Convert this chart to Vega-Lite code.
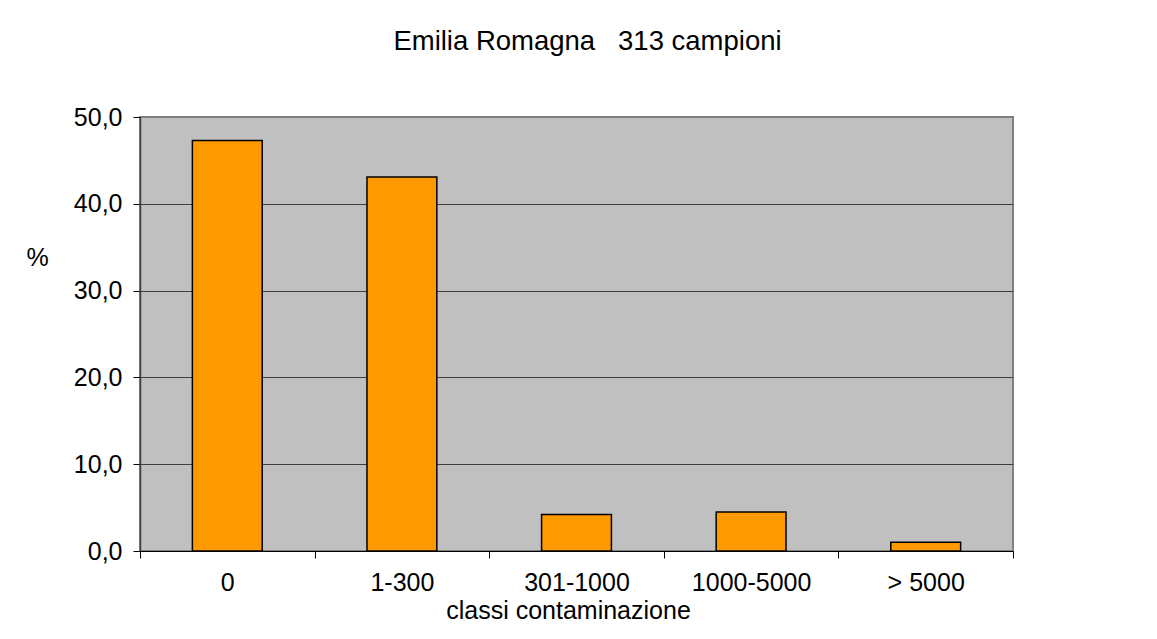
{
  "$schema": "https://vega.github.io/schema/vega-lite/v6.json",
  "width": 873,
  "height": 434,
  "autosize": {"type": "none"},
  "padding": {"left": 140, "top": 117, "right": 144, "bottom": 88},
  "background": "white",
  "title": {
    "text": "Emilia Romagna\u00a0\u00a0\u00a0313 campioni",
    "font": "Liberation Sans",
    "fontSize": 27.5,
    "fontWeight": "normal",
    "color": "#000000",
    "anchor": "middle",
    "dx": 11,
    "baseline": "alphabetic",
    "offset": 28
  },
  "data": {
    "values": [
      {"classe": "0", "pct": 47.3},
      {"classe": "1-300", "pct": 43.1},
      {"classe": "301-1000", "pct": 4.2},
      {"classe": "1000-5000", "pct": 4.5},
      {"classe": "> 5000", "pct": 1.0}
    ]
  },
  "mark": {"type": "bar", "color": "#FF9900", "stroke": "#000000", "strokeWidth": 1.5, "width": {"band": 0.4}},
  "encoding": {
    "x": {
      "field": "classe",
      "type": "nominal",
      "sort": null,
      "scale": {"paddingInner": 0, "paddingOuter": 0},
      "axis": {
        "title": "classi contaminazione",
        "labelAngle": 0,
        "tickBand": "extent",
        "tickSize": 7,
        "tickColor": "#000000",
        "domainColor": "#000000",
        "labelFont": "Liberation Sans",
        "labelFontSize": 25,
        "labelColor": "#000000",
        "labelPadding": 12,
        "titleFont": "Liberation Sans",
        "titleFontSize": 25,
        "titleFontWeight": "normal",
        "titleColor": "#000000",
        "titleBaseline": "alphabetic",
        "titleX": 428,
        "titleY": 67,
        "grid": false
      }
    },
    "y": {
      "field": "pct",
      "type": "quantitative",
      "scale": {"domain": [0, 50], "nice": false},
      "axis": {
        "title": "%",
        "titleAngle": 0,
        "titleX": -103,
        "titleY": 140,
        "titleAlign": "center",
        "titleBaseline": "middle",
        "titleFont": "Liberation Sans",
        "titleFontSize": 25,
        "titleFontWeight": "normal",
        "titleColor": "#000000",
        "values": [0, 10, 20, 30, 40, 50],
        "labelExpr": "replace(format(datum.value, '.1f'), '.', ',')",
        "labelFont": "Liberation Sans",
        "labelFontSize": 25,
        "labelColor": "#000000",
        "labelPadding": 11,
        "tickSize": 7,
        "tickColor": "#000000",
        "domainColor": "#404040",
        "domainWidth": 1.5,
        "grid": true,
        "gridColor": {"condition": {"test": "datum.value === 50 || datum.value === 0", "value": "#808080"}, "value": "#404040"},
        "gridWidth": 1
      }
    }
  },
  "config": {
    "view": {"fill": "#C0C0C0", "stroke": "#808080", "strokeWidth": 2}
  }
}
